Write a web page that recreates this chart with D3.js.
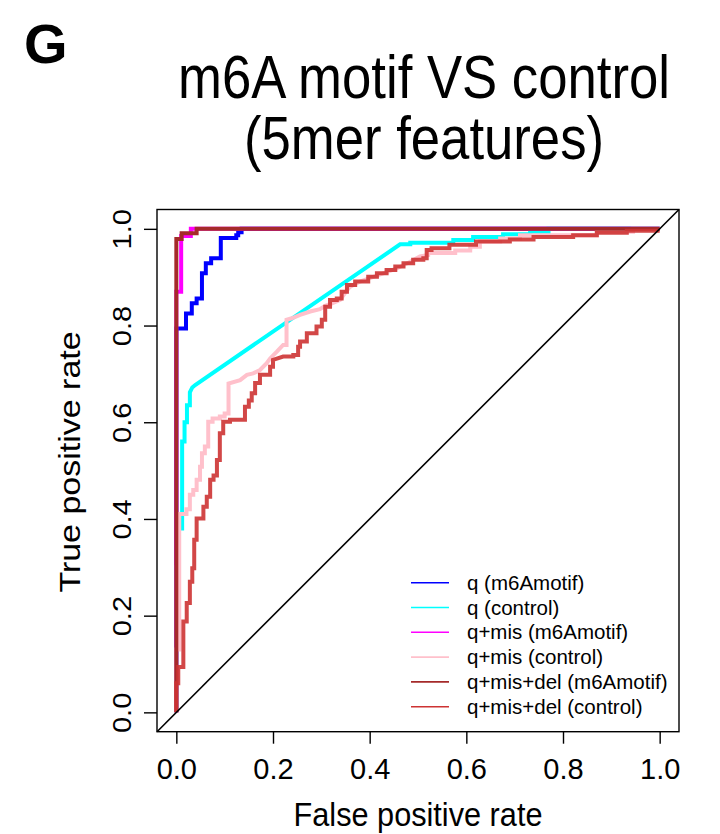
<!DOCTYPE html>
<html>
<head>
<meta charset="utf-8">
<script src="https://cdn.jsdelivr.net/npm/d3@7"></script>
<style>
  html, body { margin: 0; padding: 0; background: #fff; }
  svg text { font-family: "Liberation Sans", Arial, Helvetica, sans-serif; fill: #000; }
</style>
</head>
<body>
<svg id="chart" width="720" height="834"></svg>
<script>
// ROC curves, m6A motif vs control, 5mer features
const seriesNames = ["q (m6Amotif)", "q (control)", "q+mis (m6Amotif)", "q+mis (control)",
                     "q+mis+del (m6Amotif)", "q+mis+del (control)"];
const seriesColors = ["#0000FF", "#00FFFF", "#FF00FF", "#FFC0CB", "#A52A2A", "#CD3333"];

const qMotifFpr = [0, 0, 0.020, 0.020, 0.032, 0.032, 0.042, 0.042, 0.053, 0.053, 0.061, 0.061,
  0.072, 0.072, 0.092, 0.092, 0.124, 0.124, 0.128, 0.128, 0.135, 0.135, 1];
const qMotifTpr = [0, 0.794, 0.794, 0.825, 0.825, 0.846, 0.846, 0.856, 0.856, 0.908, 0.908, 0.929,
  0.929, 0.939, 0.939, 0.981, 0.981, 0.987, 0.987, 0.993, 0.993, 1, 1];

const qControlFpr = [0, 0, 0.004, 0.004, 0.012, 0.012, 0.017, 0.017, 0.022, 0.022, 0.028, 0.028,
  0.033, 0.039, 0.463, 0.484, 0.484, 0.573, 0.573, 0.614, 0.614, 0.676, 0.676, 0.732, 0.732, 0.77, 0.77, 1];
const qControlTpr = [0, 0.30, 0.30, 0.38, 0.38, 0.56, 0.56, 0.60, 0.60, 0.635, 0.635, 0.662,
  0.672, 0.677, 0.968, 0.968, 0.971, 0.971, 0.977, 0.977, 0.983, 0.983, 0.989, 0.989, 0.994, 0.994, 1, 1];

const qMisMotifFpr = [0, 0, 0.010, 0.010, 0.030, 0.030, 1];
const qMisMotifTpr = [0, 0.87, 0.87, 0.985, 0.985, 1, 1];

const qMisControlFpr = [0, 0, 0.006, 0.006, 0.021, 0.021, 0.028, 0.028, 0.035, 0.035, 0.042, 0.042,
  0.049, 0.049, 0.053, 0.053, 0.059, 0.059, 0.066, 0.066, 0.075, 0.075, 0.090, 0.090, 0.100, 0.100,
  0.108, 0.108, 0.132, 0.146, 0.159, 0.173, 0.187, 0.194, 0.208, 0.221, 0.228, 0.228, 0.239, 0.256,
  0.277, 0.297, 0.308, 0.322, 0.339, 0.349, 0.359, 0.380, 0.400, 0.428, 0.456, 0.484, 0.504, 0.521,
  0.521, 0.577, 0.577, 0.608, 0.608, 0.628, 0.628, 0.670, 0.670, 0.711, 0.711, 0.870, 0.870, 0.945, 0.945, 1];
const qMisControlTpr = [0, 0.13, 0.13, 0.41, 0.41, 0.42, 0.42, 0.45, 0.45, 0.46, 0.46, 0.481,
  0.481, 0.508, 0.508, 0.536, 0.536, 0.55, 0.55, 0.601, 0.601, 0.608, 0.608, 0.612, 0.612, 0.618,
  0.618, 0.68, 0.687, 0.698, 0.701, 0.708, 0.722, 0.732, 0.746, 0.76, 0.76, 0.812, 0.815, 0.822,
  0.829, 0.834, 0.841, 0.846, 0.853, 0.867, 0.88, 0.891, 0.898, 0.908, 0.918, 0.932, 0.943, 0.946,
  0.95, 0.95, 0.955, 0.955, 0.963, 0.963, 0.974, 0.974, 0.98, 0.98, 0.987, 0.987, 0.994, 0.994, 1, 1];

const qMisDelMotifFpr = [0, 0, 0.011, 0.011, 0.042, 0.042, 1];
const qMisDelMotifTpr = [0, 0.979, 0.979, 0.991, 0.991, 1, 1];

const qMisDelControlFpr = [0, 0, 0.004, 0.004, 0.0145, 0.0145, 0.0215, 0.0215, 0.028, 0.028, 0.033, 0.033,
  0.037, 0.037, 0.042, 0.042, 0.056, 0.056, 0.063, 0.063, 0.070, 0.070, 0.077, 0.077, 0.084, 0.084,
  0.090, 0.090, 0.097, 0.097, 0.111, 0.111, 0.142, 0.142, 0.150, 0.150, 0.156, 0.156, 0.163, 0.163,
  0.173, 0.173, 0.194, 0.194, 0.200, 0.200, 0.221, 0.242, 0.242, 0.252, 0.252, 0.256, 0.256, 0.270,
  0.270, 0.290, 0.290, 0.301, 0.301, 0.308, 0.308, 0.318, 0.318, 0.332, 0.332, 0.342, 0.342, 0.353,
  0.353, 0.370, 0.370, 0.397, 0.397, 0.415, 0.415, 0.435, 0.435, 0.453, 0.453, 0.470, 0.470, 0.490,
  0.490, 0.511, 0.511, 0.518, 0.518, 0.528, 0.528, 0.565, 0.565, 0.620, 0.620, 0.690, 0.690, 0.739,
  0.739, 0.821, 0.821, 0.870, 0.870, 0.932, 0.932, 1];
const qMisDelControlTpr = [0, 0.06, 0.06, 0.094, 0.094, 0.188, 0.188, 0.226, 0.226, 0.27, 0.27, 0.298,
  0.298, 0.357, 0.357, 0.401, 0.401, 0.425, 0.425, 0.446, 0.446, 0.481, 0.481, 0.49, 0.49, 0.522,
  0.522, 0.577, 0.577, 0.601, 0.601, 0.605, 0.605, 0.632, 0.632, 0.645, 0.645, 0.66, 0.66, 0.681,
  0.681, 0.698, 0.698, 0.715, 0.715, 0.729, 0.736, 0.736, 0.739, 0.739, 0.756, 0.756, 0.767, 0.767,
  0.784, 0.784, 0.798, 0.798, 0.812, 0.812, 0.839, 0.839, 0.853, 0.853, 0.856, 0.856, 0.87, 0.87,
  0.884, 0.884, 0.891, 0.891, 0.901, 0.901, 0.908, 0.908, 0.915, 0.915, 0.922, 0.922, 0.929, 0.929,
  0.936, 0.936, 0.939, 0.939, 0.956, 0.956, 0.96, 0.96, 0.967, 0.967, 0.974, 0.974, 0.978, 0.978,
  0.983, 0.983, 0.987, 0.987, 0.992, 0.992, 0.996, 0.996, 1];

const axisTicks = [0, 0.2, 0.4, 0.6, 0.8, 1.0];
const titleLines = ["m6A motif VS control", "(5mer features)"];

const series = [
  [qMotifFpr, qMotifTpr], [qControlFpr, qControlTpr],
  [qMisMotifFpr, qMisMotifTpr], [qMisControlFpr, qMisControlTpr],
  [qMisDelMotifFpr, qMisDelMotifTpr], [qMisDelControlFpr, qMisDelControlTpr]
].map(([fx, ty], i) => ({
  name: seriesNames[i], color: seriesColors[i],
  points: fx.map((v, j) => [v, ty[j]])
}));

const svg = d3.select("#chart");
const box = { left: 157, right: 679, top: 209.5, bottom: 731.7 };

const x = d3.scaleLinear().domain([-0.04, 1.04]).range([box.left, box.right]);
const y = d3.scaleLinear().domain([-0.04, 1.04]).range([box.bottom, box.top]);

// condensed text helper: squeeze glyphs horizontally (or along glyph height when rotated)
function label(parent, txt, px, py, size, opts = {}) {
  const sx = opts.sx ?? 1, rot = opts.rotate ?? 0;
  const t = rot
    ? `translate(${px},${py}) rotate(${rot}) scale(1,${sx})`
    : `translate(${px},${py}) scale(${sx},1)`;
  return parent.append("text")
    .attr("transform", t)
    .attr("text-anchor", opts.anchor || "middle")
    .attr("font-size", size)
    .attr("font-weight", opts.weight || "normal")
    .text(txt);
}

// panel letter and title
label(svg, "G", 24, 63, 56, { anchor: "start", weight: "bold" });
titleLines.forEach((s, i) => label(svg, s, 424, 98 + i * 61, 62, { sx: 0.85 }));

// curves
const line = d3.line().x(d => x(d[0])).y(d => y(d[1]));
const curveOpacity = [1, 1, 1, 1, 1, 0.9];
const curves = svg.append("g").attr("fill", "none")
  .attr("stroke-linejoin", "miter").attr("stroke-linecap", "butt");
series.forEach((s, i) => {
  curves.append("path")
    .attr("d", line(s.points))
    .attr("stroke", s.color)
    .attr("stroke-width", 4)
    .attr("stroke-opacity", curveOpacity[i]);
});

// reference diagonal across the whole plot region
svg.append("line")
  .attr("x1", x(-0.04)).attr("y1", y(-0.04))
  .attr("x2", x(1.04)).attr("y2", y(1.04))
  .attr("stroke", "#000").attr("stroke-width", 1.6);

// frame
svg.append("rect")
  .attr("x", box.left).attr("y", box.top)
  .attr("width", box.right - box.left).attr("height", box.bottom - box.top)
  .attr("fill", "none").attr("stroke", "#000").attr("stroke-width", 1.4);

// axes
const fmt = d3.format(".1f");
const xAxis = svg.append("g").attr("transform", `translate(0,${box.bottom})`)
  .call(d3.axisBottom(x).tickValues(axisTicks).tickFormat(fmt).tickSize(12).tickPadding(0));
xAxis.select(".domain").remove();
xAxis.selectAll(".tick line").attr("stroke", "#000").attr("stroke-width", 1.4);
xAxis.selectAll(".tick text")
  .attr("font-size", 29).attr("font-family", null)
  .attr("y", 47).attr("dy", null);

const yAxis = svg.append("g").attr("transform", `translate(${box.left},0)`)
  .call(d3.axisLeft(y).tickValues(axisTicks).tickFormat(fmt).tickSize(13).tickPadding(0));
yAxis.select(".domain").remove();
yAxis.selectAll(".tick line").attr("stroke", "#000").attr("stroke-width", 1.4);
yAxis.selectAll(".tick text")
  .attr("x", null).attr("dy", null)
  .attr("font-size", 29).attr("font-family", null)
  .attr("text-anchor", "middle")
  .attr("transform", "translate(-26,0) rotate(-90) scale(1,0.86)");

// axis titles
label(svg, "False positive rate", (box.left + box.right) / 2, 826, 33, { sx: 0.93 });
label(svg, "True positive rate", 80, 462, 34, { rotate: -90, sx: 0.86 });

// legend
const legend = svg.append("g");
series.forEach((s, i) => {
  const ly = 582.7 + i * 24.8;
  legend.append("line")
    .attr("x1", 411).attr("x2", 449).attr("y1", ly).attr("y2", ly)
    .attr("stroke", s.color).attr("stroke-width", 1.6);
  legend.append("text")
    .attr("x", 467).attr("y", ly + 7)
    .attr("font-size", 20.5)
    .text(s.name);
});
</script>
</body>
</html>
